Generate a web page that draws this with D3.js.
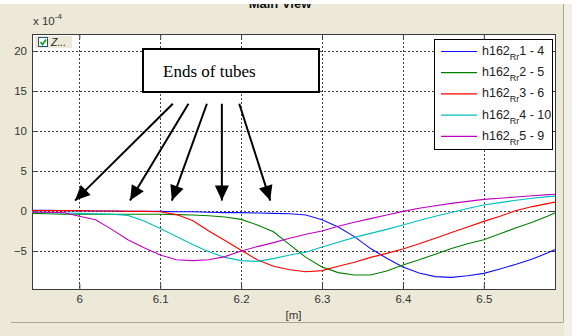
<!DOCTYPE html>
<html>
<head>
<meta charset="utf-8">
<script src="https://cdn.jsdelivr.net/npm/d3@7"></script>
<style>
body { margin: 0; padding: 0; background: #ece9d8; }
svg { display: block; }
</style>
</head>
<body>
<div id="container"></div>
<script>

// position along the pipe [m]
var xs = [5.94, 5.96, 5.98, 6.00, 6.02, 6.04, 6.06, 6.08, 6.10, 6.12, 6.14, 6.16, 6.18,
	6.20, 6.22, 6.24, 6.26, 6.28, 6.30, 6.32, 6.34, 6.36, 6.38, 6.40, 6.42, 6.44,
	6.46, 6.48, 6.50, 6.52, 6.54, 6.56, 6.58, 6.59];

// values in units of 1e-4
var s_1_4 = [0.1, 0.1, 0.05, 0.05, 0.0, 0.0, -0.05, -0.05, -0.05, -0.1, -0.1, -0.15, -0.2,
	-0.2, -0.25, -0.3, -0.35, -0.5, -1.1, -2.0, -3.2, -4.7, -5.9, -7.0, -7.75, -8.2,
	-8.3, -8.1, -7.8, -7.25, -6.65, -6.0, -5.2, -4.75];
var s_2_5 = [-0.3, -0.35, -0.4, -0.4, -0.4, -0.4, -0.4, -0.4, -0.4, -0.45, -0.5, -0.6, -0.75,
	-1.05, -1.75, -2.6, -4.2, -5.8, -7.0, -7.7, -8.0, -8.0, -7.5, -6.75, -6.1, -5.4,
	-4.7, -4.1, -3.6, -2.85, -2.1, -1.4, -0.6, -0.15];
var s_3_6 = [0.05, 0.05, 0.05, 0.05, 0.0, 0.0, -0.05, -0.05, -0.1, -0.45, -1.2, -2.5, -3.7,
	-4.9, -6.1, -6.9, -7.35, -7.6, -7.45, -6.9, -6.4, -5.8, -5.3, -4.75, -4.1, -3.4,
	-2.7, -2.0, -1.3, -0.65, 0.05, 0.55, 0.95, 1.15];
var s_4_10 = [-0.12, -0.2, -0.25, -0.3, -0.35, -0.4, -0.55, -1.25, -2.2, -3.2, -4.2, -5.1, -5.8,
	-6.2, -6.3, -5.95, -5.5, -5.15, -4.5, -3.9, -3.3, -2.8, -2.3, -1.75, -1.2, -0.65,
	-0.2, 0.3, 0.75, 1.05, 1.35, 1.6, 1.8, 1.87];
var s_5_9 = [-0.15, -0.15, -0.2, -0.65, -1.1, -2.3, -3.6, -4.6, -5.5, -6.1, -6.2, -6.1, -5.7,
	-5.0, -4.45, -3.95, -3.4, -2.9, -2.5, -1.9, -1.4, -0.95, -0.5, -0.05, 0.35, 0.65,
	0.95, 1.2, 1.45, 1.6, 1.75, 1.9, 2.05, 2.1];

var series_names = ["1 - 4", "2 - 5", "3 - 6", "4 - 10", "5 - 9"];
var series_colors = ["#1010ff", "#008000", "#ff0000", "#00bfbf", "#bf00bf"];
var series_values = [s_1_4, s_2_5, s_3_6, s_4_10, s_5_9];

var x_ticks = [6, 6.1, 6.2, 6.3, 6.4, 6.5];
var y_ticks = [-5, 0, 5, 10, 15, 20];

// "Ends of tubes" arrows, in data units: [x0, y0, x1, y1]
var arrows = [
	[6.1156, 13.4, 5.9947, 1.3],
	[6.1349, 13.4, 6.0627, 1.3],
	[6.1577, 13.4, 6.1144, 1.3],
	[6.1762, 13.4, 6.1762, 1.3],
	[6.1977, 13.4, 6.2360, 1.3]
];


function drawframe(svg, W, H) {
	svg.append("rect").attr("width", W).attr("height", H).attr("fill", "#ece9d8");
	svg.append("rect").attr("x", 564).attr("y", 0).attr("width", W - 564).attr("height", H).attr("fill", "#f1efe6");
	// title sits half under the window edge, as in the screenshot
	svg.append("text")
		.attr("x", 280).attr("y", 8)
		.attr("text-anchor", "middle")
		.attr("font-family", "Liberation Sans, Arial, sans-serif")
		.attr("font-size", 13).attr("font-weight", "bold")
		.attr("fill", "#111")
		.text("Main View");
	svg.append("rect").attr("width", W).attr("height", 4).attr("fill", "#ffffff");
	svg.append("line").attr("x1", 563.5).attr("x2", 563.5).attr("y1", 4).attr("y2", 322)
		.attr("stroke", "#a8a697");
	svg.append("line").attr("x1", 11).attr("x2", 563.5).attr("y1", 322.5).attr("y2", 322.5)
		.attr("stroke", "#a8a697");
};


function drawaxes(svg, x, y, m) {
	var font = "Liberation Sans, Arial, sans-serif";
	var g = svg.append("g");

	g.append("rect")
		.attr("x", m.left).attr("y", m.top)
		.attr("width", m.right - m.left).attr("height", m.bottom - m.top)
		.attr("fill", "#ffffff");

	// grid
	g.selectAll("vgrid")
		.data(x_ticks)
		.enter()
		.append("line")
		.attr("x1", function(d) { return Math.round(x(d)) + 0.5 })
		.attr("x2", function(d) { return Math.round(x(d)) + 0.5 })
		.attr("y1", m.top).attr("y2", m.bottom)
		.attr("stroke", "#404040").attr("stroke-dasharray", "2,2");
	g.selectAll("hgrid")
		.data(y_ticks)
		.enter()
		.append("line")
		.attr("y1", function(d) { return Math.round(y(d)) + 0.5 })
		.attr("y2", function(d) { return Math.round(y(d)) + 0.5 })
		.attr("x1", m.left).attr("x2", m.right)
		.attr("stroke", "#404040").attr("stroke-dasharray", "2,2");

	// inner ticks on all four sides
	var xb = svg.append("g").attr("transform", "translate(0," + m.bottom + ")")
		.call(d3.axisBottom(x).tickValues(x_ticks).tickSizeInner(-5).tickSizeOuter(0).tickPadding(6)
			.tickFormat(d3.format("")));
	var xt = svg.append("g").attr("transform", "translate(0," + m.top + ")")
		.call(d3.axisTop(x).tickValues(x_ticks).tickSizeInner(-5).tickSizeOuter(0).tickFormat(""));
	var yl = svg.append("g").attr("transform", "translate(" + m.left + ",0)")
		.call(d3.axisLeft(y).tickValues(y_ticks).tickSizeInner(-5).tickSizeOuter(0).tickPadding(5));
	var yr = svg.append("g").attr("transform", "translate(" + m.right + ",0)")
		.call(d3.axisRight(y).tickValues(y_ticks).tickSizeInner(-5).tickSizeOuter(0).tickFormat(""));
	[xb, xt, yl, yr].forEach(function(a) {
		a.select(".domain").remove();
		a.selectAll("line").attr("stroke", "#404040");
		a.selectAll("text").attr("font-family", font).attr("font-size", 11.5).attr("fill", "#333");
	});

	g.append("rect")
		.attr("x", m.left + 0.5).attr("y", m.top + 0.5)
		.attr("width", m.right - m.left).attr("height", m.bottom - m.top)
		.attr("fill", "none").attr("stroke", "#3a3a3a");

	// exponent and axis label
	var ex = svg.append("text")
		.attr("x", 33).attr("y", 25)
		.attr("font-family", font).attr("font-size", 11.5).attr("fill", "#333");
	ex.append("tspan").text("x 10");
	ex.append("tspan").attr("dy", -6).attr("font-size", 8).text("-4");

	svg.append("text")
		.attr("x", (m.left + m.right) / 2).attr("y", 319)
		.attr("text-anchor", "middle")
		.attr("font-family", font).attr("font-size", 11.5).attr("fill", "#333")
		.text("[m]");
};


function drawlines(svg, x, y, m) {
	svg.append("clipPath").attr("id", "plotclip")
		.append("rect")
		.attr("x", m.left).attr("y", m.top)
		.attr("width", m.right - m.left).attr("height", m.bottom - m.top);

	var line = d3.line()
		.x(function(d, i) { return x(xs[i]) })
		.y(function(d) { return y(d) });

	svg.append("g").attr("clip-path", "url(#plotclip)")
		.selectAll("path")
		.data(series_values)
		.enter()
		.append("path")
		.attr("d", line)
		.attr("fill", "none")
		.attr("stroke-width", 1.1)
		.attr("stroke", function(d, i) { return series_colors[i] });
};


function drawannotation(svg, x, y) {
	svg.append("defs").append("marker")
		.attr("id", "head")
		.attr("markerUnits", "userSpaceOnUse")
		.attr("viewBox", "-16 -8 17 16")
		.attr("refX", 0).attr("refY", 0)
		.attr("markerWidth", 17).attr("markerHeight", 16)
		.attr("orient", "auto")
		.append("path")
		.attr("d", "M0,0 L-15,-7 L-15,7 Z")
		.attr("fill", "#000");

	svg.selectAll("arrow")
		.data(arrows)
		.enter()
		.append("line")
		.attr("x1", function(a) { return x(a[0]) })
		.attr("y1", function(a) { return y(a[1]) })
		.attr("x2", function(a) { return x(a[2]) })
		.attr("y2", function(a) { return y(a[3]) })
		.attr("stroke", "#000").attr("stroke-width", 2)
		.attr("marker-end", "url(#head)");

	svg.append("rect")
		.attr("x", 143).attr("y", 49).attr("width", 176).attr("height", 43)
		.attr("fill", "#ffffff").attr("stroke", "#000").attr("stroke-width", 2);
	svg.append("text")
		.attr("x", 163).attr("y", 77)
		.attr("font-family", "Liberation Serif, Times New Roman, serif")
		.attr("font-size", 17).attr("fill", "#000")
		.text("Ends of tubes");

	// the little zoom checkbox in the corner
	svg.append("rect").attr("x", 35).attr("y", 36).attr("width", 37).attr("height", 12).attr("fill", "#ece9d8");
	svg.append("rect").attr("x", 38.5).attr("y", 37.5).attr("width", 9).attr("height", 9)
		.attr("fill", "#fff").attr("stroke", "#1c5180");
	svg.append("path").attr("d", "M40.5,42 L42.5,44.5 L46,39.5")
		.attr("fill", "none").attr("stroke", "#21a121").attr("stroke-width", 1.8);
	svg.append("text").attr("x", 51).attr("y", 46)
		.attr("font-family", "Liberation Sans, Arial, sans-serif")
		.attr("font-size", 10.5).attr("font-style", "italic").attr("fill", "#222")
		.text("Z...");
};


function drawlegend(svg) {
	var lg = svg.append("g");
	lg.append("rect")
		.attr("x", 434.5).attr("y", 39.5).attr("width", 118).attr("height", 110)
		.attr("fill", "#fff").attr("stroke", "#000");
	var rows = lg.selectAll("row")
		.data(series_names)
		.enter()
		.append("g")
		.attr("transform", function(d, i) { return "translate(0," + (51 + i * 21.2) + ")" });
	rows.append("line")
		.attr("x1", 441).attr("x2", 477).attr("y1", 0.5).attr("y2", 0.5)
		.attr("stroke-width", 1.2)
		.attr("stroke", function(d, i) { return series_colors[i] });
	var t = rows.append("text")
		.attr("x", 482).attr("y", 4)
		.attr("font-family", "Liberation Sans, Arial, sans-serif")
		.attr("font-size", 12.5).attr("fill", "#222");
	t.append("tspan").text("h162");
	t.append("tspan").attr("dy", 5).attr("font-size", 9).text("Rr");
	t.append("tspan").attr("dy", -5).text(function(d) { return d });
};


function main() {
	var W = 572, H = 336;
	var m = {left: 32, right: 555, top: 34, bottom: 289};
	var svg = d3.select("#container").append("svg").attr("width", W).attr("height", H);

	var x = d3.scaleLinear().domain([5.9415, 6.588]).range([m.left, m.right]);
	var y = d3.scaleLinear().domain([-9.75, 22.12]).range([m.bottom, m.top]);

	drawframe(svg, W, H);
	drawaxes(svg, x, y, m);
	drawlines(svg, x, y, m);
	drawannotation(svg, x, y);
	drawlegend(svg);
};


main()

</script>
</body>
</html>
